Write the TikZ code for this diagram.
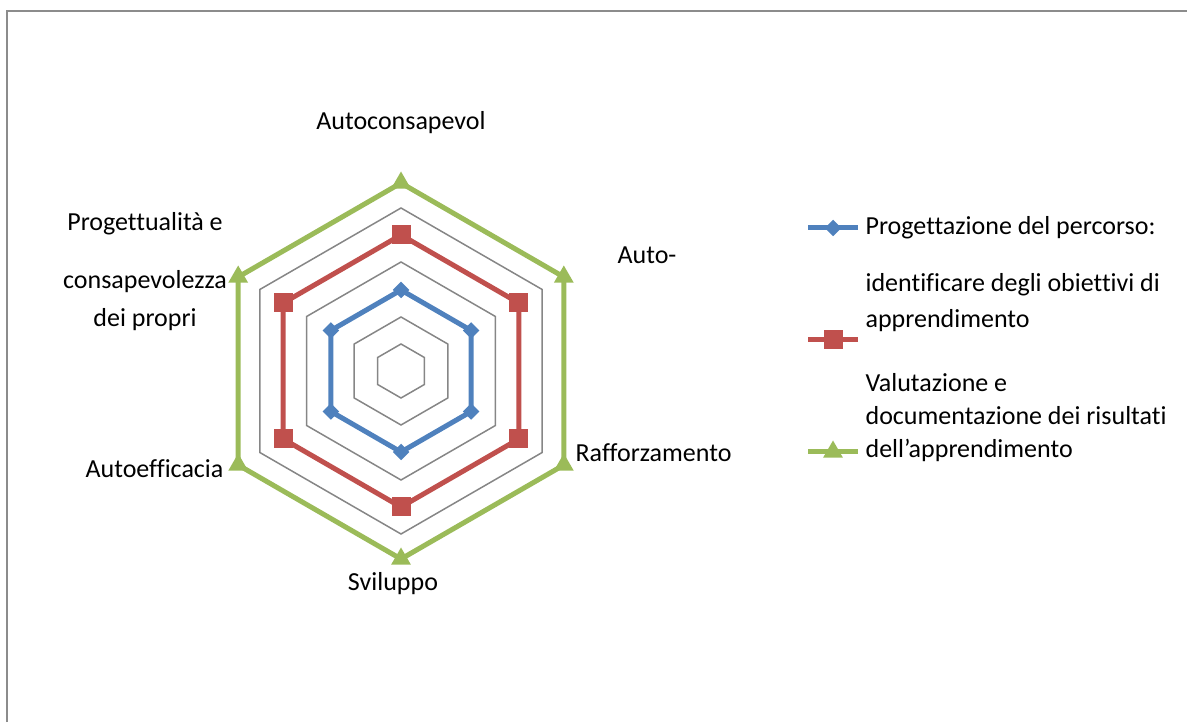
\documentclass[tikz,border=0pt]{standalone}
\usepackage{fontspec}
\setmainfont{Carlito}[Ligatures=NoCommon]
\usetikzlibrary{calc,shapes.geometric}
\definecolor{serblue}{HTML}{4F81BD}
\definecolor{serred}{HTML}{C0504D}
\definecolor{sergreen}{HTML}{9BBB59}
\definecolor{gridgray}{HTML}{868686}
\definecolor{framegray}{HTML}{8C8C8C}
\begin{document}
\begin{tikzpicture}[x=0.5pt,y=0.5pt,semithick,
                    every node/.style={font=\fontsize{13}{15}\selectfont}]
  \tikzstyle{grid}=[draw=gridgray,line width=0.75pt,line join=miter]
  \tikzstyle{series}=[line width=2.5pt,line join=round]
  \tikzstyle{mblue}=[diamond,fill=serblue,inner sep=0pt,minimum width=8.5pt,minimum height=8.5pt]
  \tikzstyle{mred}=[rectangle,fill=serred,inner sep=0pt,minimum size=9.5pt]
  \tikzstyle{mgreen}=[regular polygon,regular polygon sides=3,fill=sergreen,inner sep=0pt,minimum size=11.5pt]
  \tikzstyle{lbl}=[inner sep=0pt]

  \useasboundingbox (0,0) rectangle (1187,722);
  \draw[framegray,line width=1pt] (7,0) -- (7,711) -- (1187,711);

  \coordinate (O) at (401,351);

  % gridlines
  \foreach \r in {27,54,109,163}
    \draw[grid] ($(O)+(90:\r)$) -- ($(O)+(30:\r)$) -- ($(O)+(-30:\r)$)
      -- ($(O)+(-90:\r)$) -- ($(O)+(-150:\r)$) -- ($(O)+(150:\r)$) -- cycle;

  % data points
  \foreach \a [count=\i] in {90,30,-30,-90,-150,150} {
    \coordinate (b\i) at ($(O)+(\a:81)$);
    \coordinate (r\i) at ($(O)+(\a:136)$);
    \coordinate (g\i) at ($(O)+(\a:188)$);
  }

  \draw[series,sergreen] (g1) -- (g2) -- (g3) -- (g4) -- (g5) -- (g6) -- cycle;
  \draw[series,serred] (r1) -- (r2) -- (r3) -- (r4) -- (r5) -- (r6) -- cycle;
  \draw[series,serblue] (b1) -- (b2) -- (b3) -- (b4) -- (b5) -- (b6) -- cycle;
  \foreach \i in {1,...,6} {
    \node[mgreen] (G\i) at (g\i) {};
    \node[mred]   (R\i) at (r\i) {};
    \node[mblue]  (B\i) at (b\i) {};
  }

  % axis labels
  \node[lbl] (ax1) at (401,599) {Autoconsapevol};
  \node[lbl,anchor=west] (ax2) at (617,467) {Auto-};
  \node[lbl,anchor=west] (ax3) at (575,269) {Rafforzamento};
  \node[lbl] (ax4) at (393,138) {Sviluppo};
  \node[lbl,anchor=east] (ax5) at (224,253) {Autoefficacia};
  \node[lbl] (ax6a) at (145,498) {Progettualità e};
  \node[lbl] (ax6b) at (145,440) {consapevolezza};
  \node[lbl] (ax6c) at (145,402) {dei propri};

  % legend
  \coordinate (lb1) at (808,494); \coordinate (lb2) at (858,494);
  \coordinate (lr1) at (808,382); \coordinate (lr2) at (858,382);
  \coordinate (lg1) at (808,270); \coordinate (lg2) at (858,270);
  \draw[series,serblue] (lb1) -- (lb2);
  \draw[series,serred] (lr1) -- (lr2);
  \draw[series,sergreen] (lg1) -- (lg2);
  \node[mblue] (LB) at ($(lb1)!0.5!(lb2)$) {};
  \node[mred] (LR) at ($(lr1)!0.5!(lr2)$) {};
  \node[mgreen] (LG) at ($(lg1)!0.5!(lg2)$) {};

  \node[lbl,anchor=west] (t1) at (865,494) {Progettazione del percorso:};
  \node[lbl,anchor=west] (t2) at (865,437) {identificare degli obiettivi di};
  \node[lbl,anchor=west] (t3) at (865,401) {apprendimento};
  \node[lbl,anchor=west] (t4) at (865,339) {Valutazione e};
  \node[lbl,anchor=west] (t5) at (865,306) {documentazione dei risultati};
  \node[lbl,anchor=west] (t6) at (865,272) {dell’apprendimento};
\end{tikzpicture}
\end{document}
